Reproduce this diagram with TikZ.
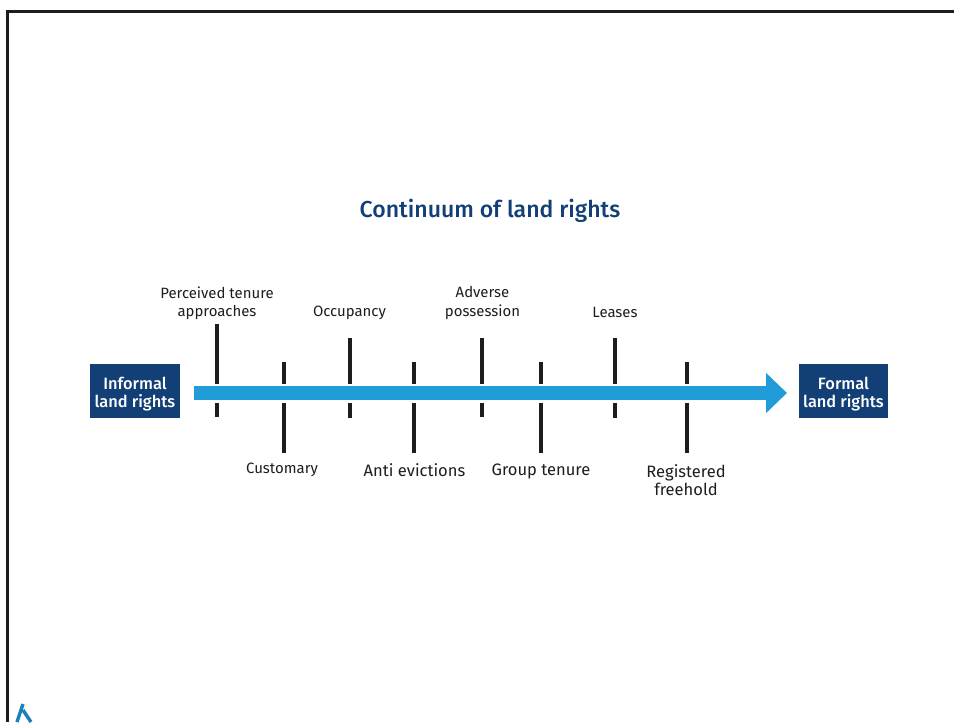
\documentclass[tikz,border=0pt]{standalone}
\usepackage{xcolor}
\usepackage{fontspec}
\setmainfont{Fira Sans}[BoldFont={Fira Sans Medium}]
\usetikzlibrary{arrows.meta}
\definecolor{navy}{HTML}{123F75}
\definecolor{flow}{HTML}{209CD8}
\definecolor{ink}{HTML}{1D1D1B}
\newcommand{\boxdrop}{\rule{0pt}{13.7pt}}
\tikzset{
  frameline/.style={draw=ink, line width=2.4pt},
  tick/.style={draw=ink, line width=3pt},
  flowline/.style={draw=flow, line width=10.5pt, -{Triangle[length=15.75pt,width=29.25pt]}},
  endbox/.style={fill=navy, text=white, minimum width=67pt, minimum height=40pt, inner sep=0pt, align=center, font=\fontsize{12.3}{13.6}\selectfont\bfseries},
  lbl/.style={text=ink, align=center, font=\fontsize{11.2}{13.6}\selectfont},
  biglbl/.style={text=ink, align=center, font=\fontsize{12.4}{13.6}\selectfont},
  heading/.style={text=navy, font=\fontsize{17.3}{20}\selectfont\bfseries}
}
\begin{document}
\begin{tikzpicture}[x=0.75pt,y=-0.75pt]
  \useasboundingbox[clip] (0,0) rectangle (954,722);

  % frame and the corner of the logo
  \draw[frameline] (7.5,722) -- (7.5,11.5) -- (954,11.5);
  \draw[draw=flow!70!navy, line width=2.6pt] (23,704) -- (17,722);
  \draw[draw=flow!70!navy, line width=2.6pt] (23,710) -- (31,722);

  \node[heading] (title) at (490,210.5) {Continuum of land rights};

  \node[endbox] (informal) at (135,391) {\boxdrop Informal\\land rights};
  \node[endbox] (formal) at (843.5,391) {\boxdrop Formal\\land rights};

  \coordinate (flowstart) at (194,393);
  \coordinate (flowend) at (787,393);
  \draw[flowline] (flowstart) -- (flowend);

  % ticks above the arrow: x, top, bottom
  \foreach \x/\top/\bot in {216.5/324/417, 349.5/338/418, 482/338/417, 615/338/418}{
    \draw[tick] (\x,\top) -- (\x,384);
    \draw[tick] (\x,403) -- (\x,\bot);
  }
  % ticks below the arrow
  \foreach \x in {283.5,414,541,687}{
    \draw[tick] (\x,362) -- (\x,384);
    \draw[tick] (\x,403) -- (\x,453);
  }

  \node[lbl] (perceived) at (217,303) {Perceived tenure\\approaches};
  \node[lbl] (occupancy) at (349.5,313) {Occupancy};
  \node[lbl] (adverse) at (482.5,303) {Adverse\\possession};
  \node[lbl] (leases) at (615,312.5) {Leases};
  \node[lbl] (customary) at (282,470) {Customary};
  \node[biglbl] (anti) at (414.5,470.5) {Anti evictions};
  \node[biglbl] (group) at (541,471.5) {Group tenure};
  \node[biglbl] (registered) at (686,480) {Registered\\freehold};
\end{tikzpicture}
\end{document}
